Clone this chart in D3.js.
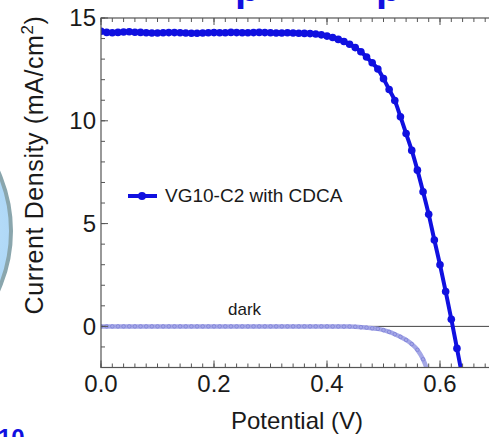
<!DOCTYPE html>
<html>
<head>
<meta charset="utf-8">
<script src="https://cdn.jsdelivr.net/npm/d3@7"></script>
<style>
  html, body { margin: 0; padding: 0; background: #fff; overflow: hidden; }
  svg { display: block; font-family: "Liberation Sans", Arial, Helvetica, sans-serif; }
</style>
</head>
<body>
<svg id="chart" width="489" height="437"></svg>
<script>
// Applied potential (V)
const voltage = [0.00,0.01,0.02,0.03,0.04,0.05,0.06,0.07,0.08,0.09,
  0.10,0.11,0.12,0.13,0.14,0.15,0.16,0.17,0.18,0.19,
  0.20,0.21,0.22,0.23,0.24,0.25,0.26,0.27,0.28,0.29,
  0.30,0.31,0.32,0.33,0.34,0.35,0.36,0.37,0.38,0.39,
  0.40,0.41,0.42,0.43,0.44,0.45,0.46,0.47,0.48,0.49,
  0.50,0.51,0.52,0.53,0.54,0.55,0.56,0.57,0.58,0.59,
  0.60,0.61,0.62,0.63,0.64];

// Photocurrent density under illumination (mA/cm2)
const lightJ = [14.35,14.30,14.28,14.30,14.32,14.33,14.31,14.30,14.28,14.27,
  14.27,14.28,14.29,14.29,14.28,14.27,14.26,14.26,14.27,14.28,
  14.29,14.28,14.28,14.30,14.29,14.28,14.28,14.29,14.30,14.29,
  14.28,14.27,14.27,14.28,14.27,14.26,14.25,14.24,14.22,14.18,
  14.12,14.05,13.96,13.86,13.72,13.56,13.36,13.10,12.82,12.52,
  12.05,11.52,10.99,10.20,9.38,8.56,7.60,6.55,5.45,4.20,
  3.00,1.70,0.35,-1.07,-2.50];

// Dark current density (mA/cm2)
const darkJ = [0,0,0,0,0,0,0,0,0,0,
  0,0,0,0,0,0,0,0,0,0,
  0,0,0,0,0,0,0,0,0,0,
  0,0,0,0,0,0,0,0,0,0,
  0,-0.005,-0.005,-0.01,-0.01,-0.02,-0.04,-0.06,-0.09,-0.12,
  -0.18,-0.27,-0.38,-0.51,-0.66,-0.86,-1.14,-1.60,-2.30];

const xTickLabels = ["0.0","0.2","0.4","0.6"];
const yTickLabels = ["0","5","10","15"];
const seriesName = "VG10-C2 with CDCA";
const darkName = "dark";

const svg = d3.select("#chart");
const padL = 101, padT = 18, padR = 496.5, padB = 367.5;

const x = d3.scaleLinear().domain([0, 0.7]).range([padL, padR]);
const y = d3.scaleLinear().domain([-2, 15]).range([padB, padT]);

// decorative backdrop pieces around the panel
const defs = svg.append("defs");
const grad = defs.append("radialGradient").attr("id", "disc")
  .attr("cx", "80%").attr("cy", "50%").attr("r", "60%");
grad.append("stop").attr("offset", "0%").attr("stop-color", "#c4e4fb");
grad.append("stop").attr("offset", "100%").attr("stop-color", "#86c1f0");
svg.append("circle").attr("cx", -134).attr("cy", 231).attr("r", 145)
  .attr("fill", "url(#disc)").attr("stroke", "#8aa6ad").attr("stroke-width", 4);

svg.append("text").attr("x", 235).attr("y", 1).attr("fill", "#1010e0")
  .attr("font-weight", "bold").attr("font-size", 40).text("p");
svg.append("text").attr("x", 376).attr("y", 1).attr("fill", "#1010e0")
  .attr("font-weight", "bold").attr("font-size", 40).text("p");
svg.append("text").attr("x", -2).attr("y", 446).attr("fill", "#1010e0")
  .attr("font-weight", "bold").attr("font-size", 24).text("10");

defs.append("clipPath").attr("id", "plot")
  .append("rect").attr("x", padL).attr("y", padT)
  .attr("width", padR - padL).attr("height", padB - padT);

const plot = svg.append("g").attr("clip-path", "url(#plot)");

// zero reference line
plot.append("line").attr("x1", padL).attr("x2", padR)
  .attr("y1", y(0)).attr("y2", y(0))
  .attr("stroke", "#444").attr("stroke-width", 1);

const line = d3.line().x(d => x(d[0])).y(d => y(d[1])).curve(d3.curveMonotoneX);

// dark curve
const darkPts = darkJ.map((j, i) => [voltage[i], j]);
plot.append("path").attr("d", line(darkPts))
  .attr("fill", "none").attr("stroke", "#a4a7e6").attr("stroke-width", 4.5);
plot.selectAll(".dk").data(darkPts).join("circle").attr("class", "dk")
  .attr("cx", d => x(d[0])).attr("cy", d => y(d[1])).attr("r", 1.8)
  .attr("fill", "none").attr("stroke", "#7d80d8").attr("stroke-width", 0.8);

// illuminated curve
const lightPts = lightJ.map((j, i) => [voltage[i], j]);
plot.append("path").attr("d", line(lightPts))
  .attr("fill", "none").attr("stroke", "#1010e0").attr("stroke-width", 4);
plot.selectAll(".lt").data(lightPts).join("circle").attr("class", "lt")
  .attr("cx", d => x(d[0])).attr("cy", d => y(d[1])).attr("r", 3.8)
  .attr("fill", "#1010e0");

// frame and ticks
const axisColor = "#555";
const frame = svg.append("g");
frame.append("rect").attr("x", padL).attr("y", padT)
  .attr("width", padR - padL).attr("height", padB - padT)
  .attr("fill", "none").attr("stroke", axisColor).attr("stroke-width", 1.2);

const xMinor = d3.range(0, 36).map(i => i * 0.02);
const xMajor = xTickLabels.map(Number);
const yMinor = d3.range(-2, 16);
const yMajor = yTickLabels.map(Number);

function ticksX(vals, len) {
  vals.forEach(v => {
    frame.append("line").attr("x1", x(v)).attr("x2", x(v))
      .attr("y1", padB).attr("y2", padB - len)
      .attr("stroke", axisColor).attr("stroke-width", 1);
    frame.append("line").attr("x1", x(v)).attr("x2", x(v))
      .attr("y1", padT).attr("y2", padT + len)
      .attr("stroke", axisColor).attr("stroke-width", 1);
  });
}
function ticksY(vals, len) {
  vals.forEach(v => {
    frame.append("line").attr("x1", padL).attr("x2", padL + len)
      .attr("y1", y(v)).attr("y2", y(v))
      .attr("stroke", axisColor).attr("stroke-width", 1);
    frame.append("line").attr("x1", padR).attr("x2", padR - len)
      .attr("y1", y(v)).attr("y2", y(v))
      .attr("stroke", axisColor).attr("stroke-width", 1);
  });
}
ticksX(xMinor, 4); ticksX(xMajor, 7);
ticksY(yMinor, 4); ticksY(yMajor, 7);

// tick labels
xTickLabels.forEach(t => {
  svg.append("text").attr("x", x(+t)).attr("y", 392)
    .attr("text-anchor", "middle").attr("font-size", 24).attr("fill", "#1a1a1a").text(t);
});
yTickLabels.forEach(t => {
  svg.append("text").attr("x", 96).attr("y", y(+t)).attr("dy", "0.35em")
    .attr("text-anchor", "end").attr("font-size", 24).attr("fill", "#1a1a1a").text(t);
});

// axis titles
svg.append("text").attr("x", 297).attr("y", 429).attr("text-anchor", "middle")
  .attr("font-size", 24).attr("fill", "#1a1a1a").text("Potential (V)");
const yt = svg.append("text").attr("transform", "translate(43,165) rotate(-90)")
  .attr("text-anchor", "middle").attr("font-size", 25).attr("fill", "#1a1a1a")
  .attr("letter-spacing", 0.6);
yt.append("tspan").text("Current Density (mA/cm");
yt.append("tspan").attr("dy", -10).attr("font-size", 17).text("2");
yt.append("tspan").attr("dy", 10).text(")");

// legend
svg.append("line").attr("x1", 128).attr("x2", 157).attr("y1", 196).attr("y2", 196)
  .attr("stroke", "#1010e0").attr("stroke-width", 4);
svg.append("circle").attr("cx", 142).attr("cy", 196).attr("r", 4).attr("fill", "#1010e0");
svg.append("text").attr("x", 165).attr("y", 202).attr("font-size", 19)
  .attr("fill", "#1a1a1a").text(seriesName);

svg.append("text").attr("x", 228).attr("y", 315).attr("font-size", 17)
  .attr("fill", "#1a1a1a").text(darkName);
</script>
</body>
</html>
